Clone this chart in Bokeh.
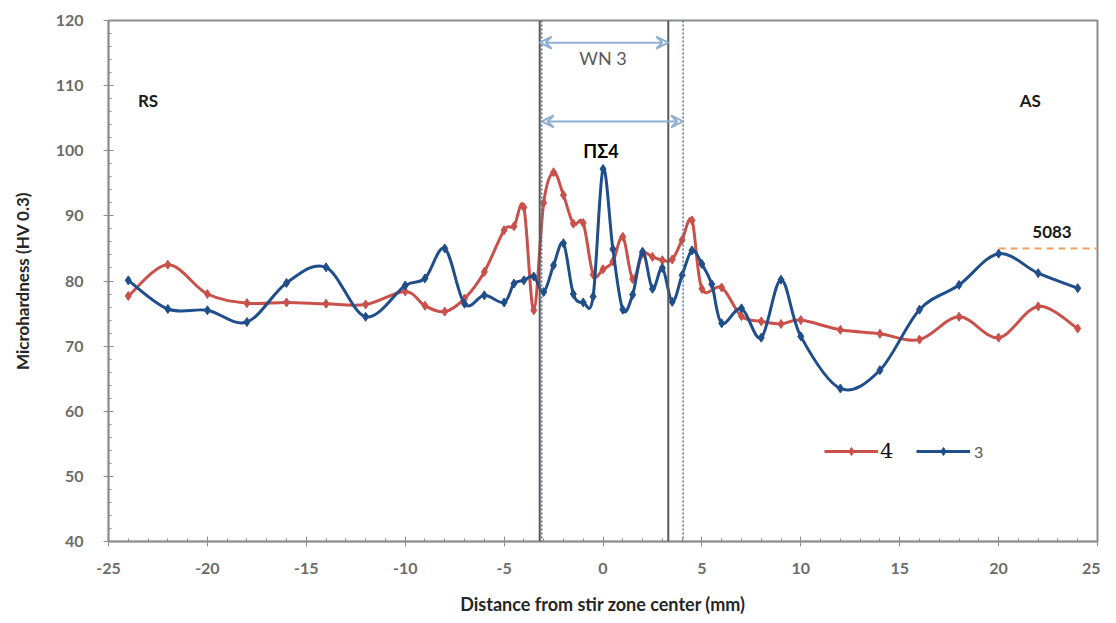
from bokeh.plotting import figure
from bokeh.models import (ColumnDataSource, Span, Arrow, VeeHead, Label, Legend,
                          LegendItem, FixedTicker, Range1d)
from bokeh.embed import file_html
from bokeh.resources import INLINE

# ---------------- data ----------------
x_red = [-24, -22, -20, -18, -16, -14, -12, -10, -9, -8, -7, -6,
         -5, -4.5, -4, -3.5, -3, -2.5, -2, -1.5, -1, -0.5, 0, 0.5, 1, 1.5, 2, 2.5, 3, 3.5, 4, 4.5, 5,
         6, 7, 8, 9, 10, 12, 14, 16, 18, 20, 22, 24]
y_red = [77.7, 82.5, 78.0, 76.6, 76.7, 76.5, 76.4, 78.4, 76.2, 75.3, 77.3, 81.4,
         87.8, 88.4, 91.3, 75.5, 92.0, 96.7, 93.2, 88.8, 88.9, 81.0, 81.8, 83.0, 86.8, 80.3, 84.2, 83.7, 83.2, 83.3, 86.3, 89.3, 78.8,
         79.0, 74.6, 73.8, 73.4, 74.0, 72.5, 71.9, 71.0, 74.5, 71.3, 76.1, 72.7]

x_blue = [-24, -22, -20, -18, -16, -14, -12, -10, -9, -8, -7, -6,
          -5, -4.5, -4, -3.5, -3, -2.5, -2, -1.5, -1, -0.5, 0, 0.5, 1, 1.5, 2, 2.5, 3, 3.5, 4, 4.5, 5,
          5.5, 6, 7, 8, 9, 10, 12, 14, 16, 18, 20, 22, 24]
y_blue = [80.1, 75.7, 75.5, 73.7, 79.7, 82.1, 74.5, 79.3, 80.4, 85.0, 76.5, 77.8,
          76.7, 79.6, 80.1, 80.7, 78.3, 82.4, 85.8, 78.0, 76.7, 77.6, 97.2, 84.9, 75.6, 77.9, 84.5, 78.8, 82.0, 76.8, 80.9, 84.7, 82.6,
          79.5, 73.5, 75.8, 71.3, 80.2, 71.5, 63.5, 66.3, 75.6, 79.4, 84.2, 81.2, 78.9]

series_names = ["4", "3"]
x_ticks = [-25, -20, -15, -10, -5, 0, 5, 10, 15, 20, 25]
y_ticks = [40, 50, 60, 70, 80, 90, 100, 110, 120]

# zone boundaries (mm) and reference level
wn_left, wn_right = -3.2, 3.3
ps_left, ps_right = -3.1, 4.05
base_level = 85.0
base_from, base_to = 20, 25

RED = "#c9514a"
BLUE = "#1f4e8a"
FONT = "Lato"


def smooth_source(xs, ys, t=1.0 / 6.0):
    n = len(xs)
    d = dict(x0=[], y0=[], x1=[], y1=[], cx0=[], cy0=[], cx1=[], cy1=[])
    for i in range(n - 1):
        p0 = (xs[max(i - 1, 0)], ys[max(i - 1, 0)])
        p1 = (xs[i], ys[i])
        p2 = (xs[i + 1], ys[i + 1])
        p3 = (xs[min(i + 2, n - 1)], ys[min(i + 2, n - 1)])
        d["x0"].append(p1[0]); d["y0"].append(p1[1])
        d["x1"].append(p2[0]); d["y1"].append(p2[1])
        d["cx0"].append(p1[0] + (p2[0] - p0[0]) * t)
        d["cy0"].append(p1[1] + (p2[1] - p0[1]) * t)
        d["cx1"].append(p2[0] - (p3[0] - p1[0]) * t)
        d["cy1"].append(p2[1] - (p3[1] - p1[1]) * t)
    return ColumnDataSource(d)


p = figure(frame_width=989, frame_height=521, output_backend="svg", toolbar_location=None,
           x_range=Range1d(-25, 25), y_range=Range1d(40, 120),
           min_border_left=108, min_border_right=3, min_border_top=20, min_border_bottom=74,
           background_fill_color="white", border_fill_color="white")
p.xgrid.visible = False
p.ygrid.visible = False
p.outline_line_color = "#8c8c8c"
p.outline_line_width = 2

for ax in (p.xaxis[0], p.yaxis[0]):
    ax.axis_line_color = "#8c8c8c"
    ax.axis_line_width = 1.5
    ax.major_tick_line_color = "#8c8c8c"
    ax.minor_tick_line_color = "#8c8c8c"
    ax.major_tick_in = 5
    ax.major_tick_out = 5
    ax.minor_tick_in = 3
    ax.minor_tick_out = 0
    ax.major_label_text_font = FONT
    ax.major_label_text_font_style = "bold"
    ax.major_label_text_font_size = "16px"
    ax.major_label_text_color = "#6b6b6b"
    ax.axis_label_text_font = FONT
    ax.axis_label_text_font_style = "bold"
    ax.axis_label_text_color = "#262626"

p.xaxis[0].ticker = FixedTicker(ticks=x_ticks, minor_ticks=list(range(-25, 26)))
p.yaxis[0].ticker = FixedTicker(ticks=y_ticks, minor_ticks=list(range(40, 121, 2)))
p.xaxis[0].major_label_overrides = {t: str(t) for t in x_ticks}
p.yaxis[0].major_label_overrides = {t: str(t) for t in y_ticks}
p.xaxis.axis_label = "Distance from stir zone center (mm)"
p.yaxis.axis_label = "Microhardness (HV 0.3)"
p.xaxis.axis_label_text_font_size = "18px"
p.yaxis.axis_label_text_font_size = "17px"
p.xaxis.major_label_standoff = 16
p.yaxis.major_label_standoff = 20
p.xaxis.axis_label_standoff = 16
p.yaxis.axis_label_standoff = 20

# vertical zone lines
p.add_layout(Span(location=wn_left, dimension="height", line_color="#595959", line_width=2))
p.add_layout(Span(location=ps_left, dimension="height", line_color="#4a6fa5", line_width=1.5, line_dash="2 2"))
p.add_layout(Span(location=wn_right, dimension="height", line_color="#595959", line_width=2))
p.add_layout(Span(location=ps_right, dimension="height", line_color="#4a6fa5", line_width=1.5, line_dash="2 2"))

# zone arrows
ARROW_C = "#8eaed3"
p.add_layout(Arrow(x_start=wn_left, x_end=wn_right, y_start=116.6, y_end=116.6,
                   line_color=ARROW_C, line_width=2,
                   start=VeeHead(size=12, line_color=ARROW_C, line_width=2, fill_alpha=0),
                   end=VeeHead(size=12, line_color=ARROW_C, line_width=2, fill_alpha=0)))
p.add_layout(Arrow(x_start=ps_left, x_end=ps_right, y_start=104.5, y_end=104.5,
                   line_color=ARROW_C, line_width=2,
                   start=VeeHead(size=12, line_color=ARROW_C, line_width=2, fill_alpha=0),
                   end=VeeHead(size=12, line_color=ARROW_C, line_width=2, fill_alpha=0)))

# base metal level
p.line(x=[base_from, base_to], y=[base_level, base_level], line_color="#f0a05a",
       line_width=2, line_dash="7 5")

# series
red_curve = p.bezier(x0="x0", y0="y0", x1="x1", y1="y1", cx0="cx0", cy0="cy0", cx1="cx1", cy1="cy1",
                     source=smooth_source(x_red, y_red), line_color=RED, line_width=3)
red_pts = p.scatter(x_red, y_red, marker="diamond", size=9, fill_color=RED, line_color=RED)
blue_curve = p.bezier(x0="x0", y0="y0", x1="x1", y1="y1", cx0="cx0", cy0="cy0", cx1="cx1", cy1="cy1",
                      source=smooth_source(x_blue, y_blue), line_color=BLUE, line_width=3)
blue_pts = p.scatter(x_blue, y_blue, marker="diamond", size=9, fill_color=BLUE, line_color=BLUE)

leg1 = Legend(items=[LegendItem(label=series_names[0], renderers=[red_curve, red_pts])],
              location=(716, 78), glyph_width=54, padding=0, margin=0, label_standoff=2,
              border_line_alpha=0, background_fill_alpha=0,
              label_text_font="DejaVu Serif", label_text_font_size="21px", label_text_color="#111111")
leg2 = Legend(items=[LegendItem(label=series_names[1], renderers=[blue_curve, blue_pts])],
              location=(808, 80), glyph_width=54, padding=0, margin=0, label_standoff=4,
              border_line_alpha=0, background_fill_alpha=0,
              label_text_font=FONT, label_text_font_size="16px", label_text_color="#595959")
p.add_layout(leg1)
p.add_layout(leg2)

# texts
def lab(x, y, t, size, color, style):
    p.add_layout(Label(x=x, y=y, text=t, text_font=FONT, text_font_size=size, text_color=color,
                       text_font_style=style, text_align="center", text_baseline="middle"))

lab(-23.0, 107.7, "RS", "17px", "#1a1a1a", "bold")
lab(21.6, 107.7, "AS", "17px", "#1a1a1a", "bold")
lab(0.0, 114.2, "WN 3", "18px", "#595959", "normal")
lab(-0.1, 99.9, "ΠΣ4", "18px", "#000000", "bold")
lab(22.7, 87.6, "5083", "17px", "#1a1a1a", "bold")

open("out.html", "w").write(file_html(p, INLINE))
